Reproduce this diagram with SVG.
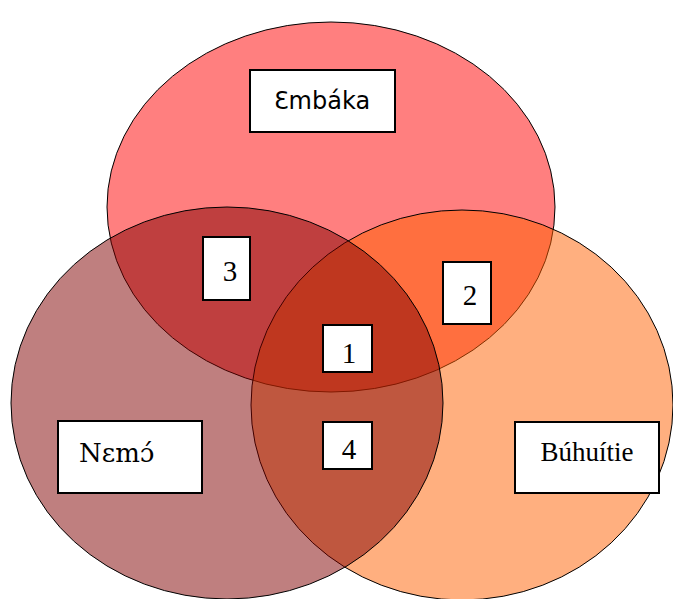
<svg xmlns="http://www.w3.org/2000/svg" width="673" height="599" viewBox="0 0 673 599">
<style>
.set{stroke:#000;stroke-width:1;fill-opacity:0.5}
.box{fill:#fff;stroke:#000;stroke-width:2}
.sans{font-family:"DejaVu Sans","Noto Sans",sans-serif;font-size:24px;fill:#000}
.serif{font-family:"Liberation Serif","DejaVu Serif",serif;font-size:27px;fill:#000}
.num{font-family:"Liberation Serif","DejaVu Serif",serif;font-size:29px;fill:#000;text-anchor:middle}
</style>
<g id="sets">
<ellipse id="set-top" class="set" cx="331" cy="207" rx="224" ry="185" fill="#ff0000"/>
<ellipse id="set-right" class="set" cx="462" cy="405" rx="211" ry="195" fill="#ff6000"/>
<ellipse id="set-left" class="set" cx="227" cy="403" rx="216" ry="196" fill="#800000"/>
</g>
<g id="connectors"></g>
<g id="n-embaka"><rect class="box" x="250" y="70" width="145" height="62"/><text class="sans" x="322" y="109" text-anchor="middle">Ɛmbáka</text></g>
<g id="n-nemo"><rect class="box" x="58" y="421" width="144" height="72"/><text class="serif" x="79" y="462" style="font-family:'DejaVu Serif',serif;font-size:26px">Nɛmɔ́</text></g>
<g id="n-buhuitie"><rect class="box" x="515" y="422" width="144" height="71"/><text class="serif" x="587" y="461" text-anchor="middle">Búhuítie</text></g>
<g id="n-3"><rect class="box" x="203" y="237" width="47" height="63"/><text class="num" x="230" y="281">3</text></g>
<g id="n-2"><rect class="box" x="443" y="262" width="48" height="62"/><text class="num" x="470" y="305">2</text></g>
<g id="n-1"><rect class="box" x="323" y="325" width="49" height="47"/><text class="num" x="349" y="363">1</text></g>
<g id="n-4"><rect class="box" x="323" y="422" width="49" height="47"/><text class="num" x="349" y="459">4</text></g>
</svg>
